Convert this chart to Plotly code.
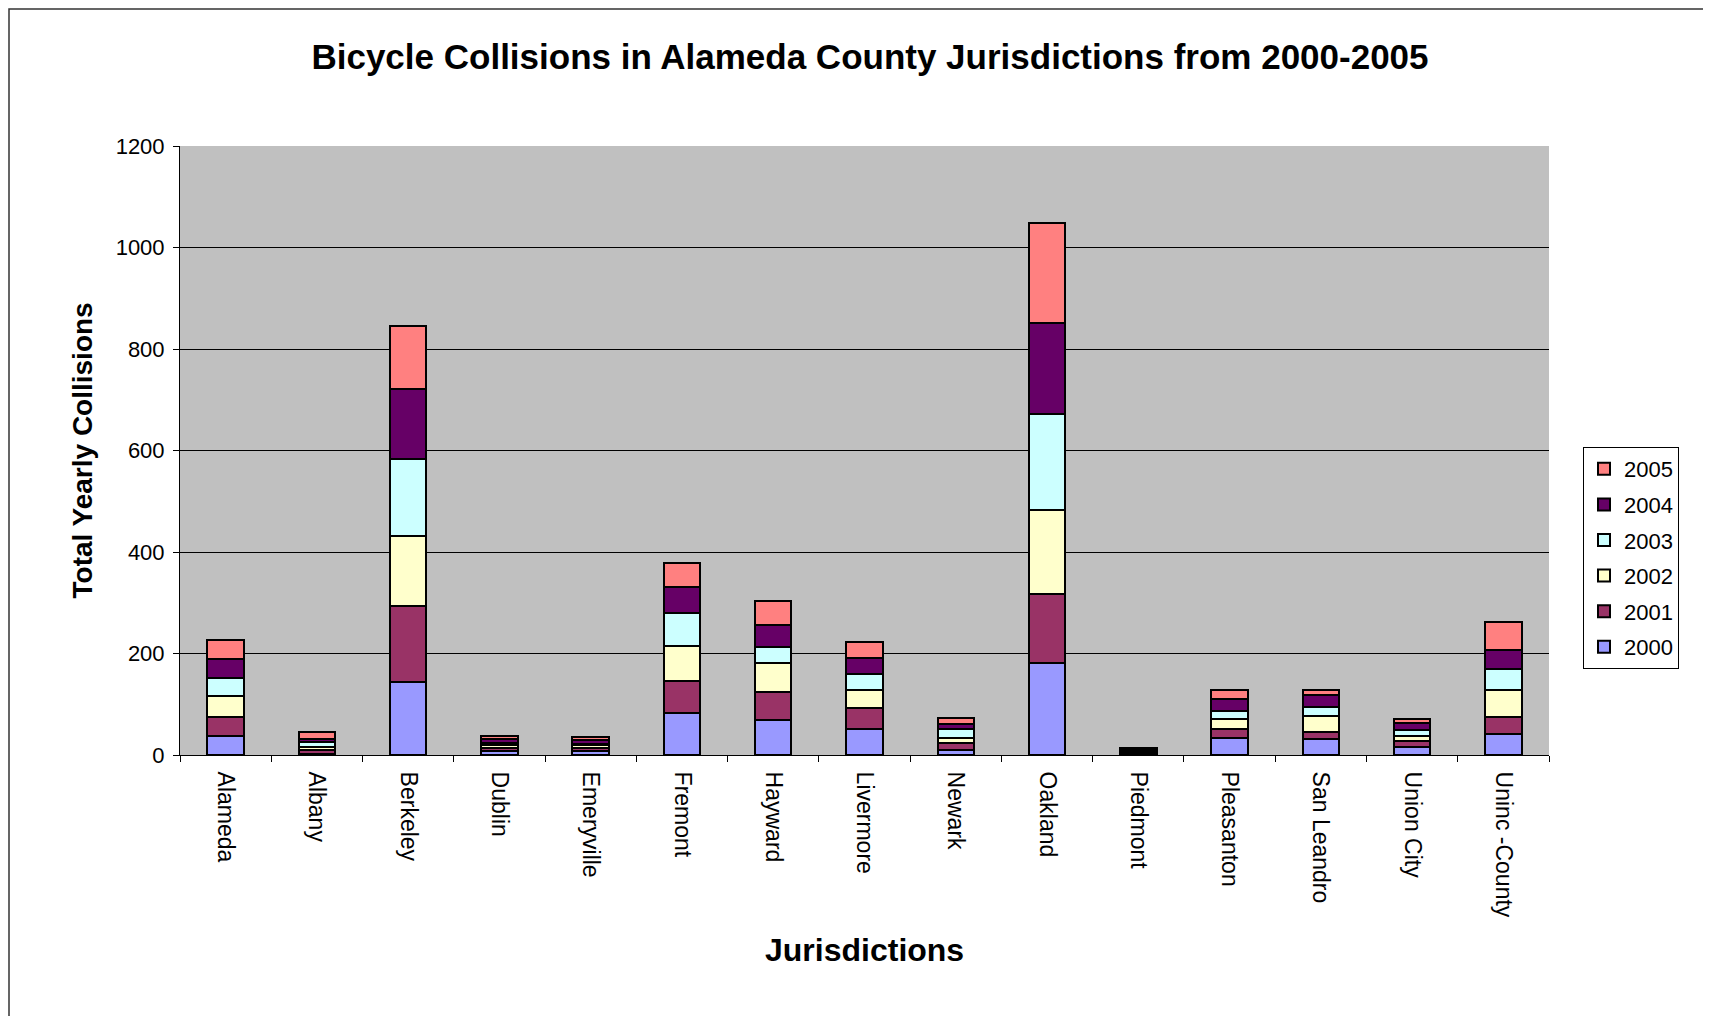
import plotly.graph_objects as go

jurisdictions = ["Alameda", "Albany", "Berkeley", "Dublin", "Emeryville", "Fremont",
                 "Hayward", "Livermore", "Newark", "Oakland", "Piedmont", "Pleasanton",
                 "San Leandro", "Union City", "Uninc -County"]

y2000 = [37, 1, 143, 8, 8, 82, 69, 51, 10, 181, 3, 34, 31, 16, 41]
y2001 = [38, 8, 151, 5, 5, 64, 56, 41, 14, 136, 2, 17, 14, 11, 33]
y2002 = [42, 6, 138, 6, 6, 69, 56, 36, 10, 165, 3, 20, 31, 10, 55]
y2003 = [35, 11, 151, 5, 3, 64, 31, 32, 18, 189, 2, 15, 18, 13, 41]
y2004 = [38, 5, 139, 8, 8, 53, 45, 32, 10, 181, 2, 25, 25, 13, 36]
y2005 = [36, 14, 123, 6, 6, 46, 46, 31, 10, 196, 2, 17, 10, 8, 56]

years = ["2000", "2001", "2002", "2003", "2004", "2005"]
series = [y2000, y2001, y2002, y2003, y2004, y2005]
colors = ["#9999FF", "#993366", "#FFFFCC", "#CCFFFF", "#660066", "#FF8080"]

FONT = "Arial, Liberation Sans, sans-serif"

fig = go.Figure()
for i, (name, vals, col) in enumerate(zip(years, series, colors)):
    fig.add_trace(go.Bar(
        x=jurisdictions, y=vals, name=name, legendgroup=name,
        legendrank=100 - i,
        marker=dict(color=col, line=dict(color="black", width=2)),
    ))

OFF = 8  # page body margin
W, H = 1711 - OFF, 1016 - OFF
L, R, T, B = 180 - OFF, 1549 - OFF, 146 - OFF, 755 - OFF

def px_x(x):
    return (x - OFF - L) / (R - L)

def px_y(y):
    return (B - (y - OFF)) / (B - T)

fig.update_layout(
    width=W, height=H,
    barmode="stack",
    bargap=0.6,
    plot_bgcolor="#C0C0C0",
    paper_bgcolor="white",
    margin=dict(l=L, r=W - R, t=T, b=H - B, autoexpand=False),
    font=dict(family=FONT, color="black", size=22),
    title=dict(
        text="<b>Bicycle Collisions in Alameda County Jurisdictions from 2000-2005</b>",
        x=px_x(870), xref="paper", xanchor="center",
        y=1 - (57 - OFF) / H, yref="container", yanchor="middle",
        font=dict(family=FONT, size=35, color="black"),
    ),
    legend=dict(
        x=px_x(1583), xanchor="left",
        y=px_y(447), yanchor="top",
        bgcolor="white", bordercolor="black", borderwidth=1,
        traceorder="grouped", tracegroupgap=4,
        font=dict(family=FONT, size=22, color="black"),
    ),
    showlegend=True,
)

fig.update_xaxes(
    tickangle=90,
    tickfont=dict(family=FONT, size=23, color="black"),
    showline=True, linecolor="black", linewidth=1,
    ticks="outside", tickson="boundaries", ticklen=6, tickcolor="black",
    ticklabelstandoff=11,
    showgrid=False,
)
fig.update_yaxes(
    range=[0, 1200], dtick=200,
    tickfont=dict(family=FONT, size=22, color="black"),
    showline=True, linecolor="black", linewidth=1,
    ticks="outside", ticklen=6, tickcolor="black",
    ticklabelstandoff=4,
    showgrid=True, gridcolor="black", gridwidth=1,
    zeroline=False,
)

fig.add_annotation(
    text="<b>Total Yearly Collisions</b>", textangle=-90,
    xref="paper", yref="paper",
    x=px_x(82), y=0.5, xanchor="center", yanchor="middle",
    showarrow=False, font=dict(family=FONT, size=28, color="black"),
)
fig.add_annotation(
    text="<b>Jurisdictions</b>",
    xref="paper", yref="paper",
    x=px_x(864), y=px_y(950), xanchor="center", yanchor="middle",
    showarrow=False, font=dict(family=FONT, size=32, color="black"),
)

# outer chart border (top and left visible; right/bottom run off the page)
fig.add_shape(
    type="rect", xref="paper", yref="paper",
    x0=(1 - L) / (R - L), x1=px_x(1760),
    y0=px_y(1080), y1=(B - 1) / (B - T),
    line=dict(color="#333333", width=1.5), fillcolor="rgba(0,0,0,0)", layer="below",
)

fig.write_html("out.html")
